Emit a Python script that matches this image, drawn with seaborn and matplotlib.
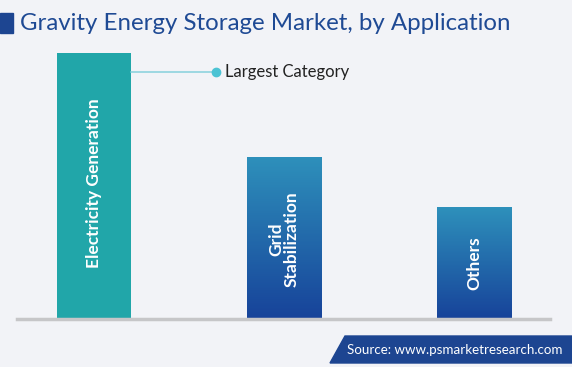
import numpy as np
import pandas as pd
import seaborn as sns
import matplotlib.pyplot as plt
from matplotlib.patches import Polygon, Rectangle
from matplotlib.colors import LinearSegmentedColormap

# chart data
categories = ["Electricity Generation", "Grid\nStabilization", "Others"]
values = [100, 61, 42]

BG = "#f2f3f7"
NAVY = "#1d4591"
TEAL = "#21a6a9"

df = pd.DataFrame({"category": categories, "value": values})

sns.set_theme(style="white")
plt.rcParams["font.family"] = ["Lato", "DejaVu Sans"]

fig = plt.figure(figsize=(5.72, 3.67), dpi=100, facecolor=BG)
ax = fig.add_axes([17 / 572, 48 / 367, 533 / 572, 279 / 367])
ax.set_facecolor(BG)

sns.barplot(data=df, x="category", y="value", ax=ax, width=0.39,
            palette=[TEAL, NAVY, NAVY], hue="category", legend=False,
            edgecolor="none", saturation=1)

# gradient fill on the blue bars
grad = LinearSegmentedColormap.from_list("g", ["#17439a", "#2e90bb"])
for i, p in enumerate(ax.patches):
    if i == 0:
        continue
    x0, y0 = p.get_x(), p.get_y()
    w, h = p.get_width(), p.get_height()
    im = ax.imshow(np.linspace(0, 1, 100).reshape(-1, 1), cmap=grad,
                   extent=[x0, x0 + w, y0, y0 + h], origin="lower",
                   aspect="auto", zorder=p.get_zorder() + 0.1)
    im.set_clip_path(p)
ax.set_xlim(-0.405, 2.4)
ax.set_ylim(0, 104.9)

for s in ["top", "right", "left"]:
    ax.spines[s].set_visible(False)
ax.spines["bottom"].set_color("#c6c6c8")
ax.spines["bottom"].set_linewidth(2.5)
ax.set_xticks([])
ax.set_yticks([])
ax.set_xlabel("")
ax.set_ylabel("")

# labels inside bars
label_y = [51, 30, 21]
for i, (cat, ly) in enumerate(zip(categories, label_y)):
    ax.text(i, ly, cat, rotation=90, ha="center", va="center", color="white",
            fontsize=12.5, fontweight="bold", linespacing=1.0, zorder=5)

# largest category callout
ax.plot([0.195, 0.64], [93, 93], color="#8fd3de", lw=1.2, zorder=4)
ax.plot([0.64], [93], "o", color="#4cc3d4", ms=6, zorder=5)
ax.text(0.69, 93, "Largest Category", va="center", ha="left", fontsize=12,
        color="#222222")

# title
fig.patches.append(Rectangle((0, 1 - 33 / 367), 13 / 572, 20 / 367,
                             transform=fig.transFigure, color=NAVY))
fig.text(20 / 572, 1 - 23 / 367, "Gravity Energy Storage Market, by Application",
         ha="left", va="center", fontsize=17.3, color="#1f4a94")

# source banner
fig.patches.append(Polygon([(330 / 572, 4 / 367), (345 / 572, 31 / 367),
                            (1, 31 / 367), (1, 4 / 367)], closed=True,
                           transform=fig.transFigure, color=NAVY))
fig.text(347 / 572, 17.5 / 367, "Source: www.psmarketresearch.com", ha="left",
         va="center", fontsize=9.6, color="white")

fig.savefig("out.png", dpi=100, facecolor=BG)
